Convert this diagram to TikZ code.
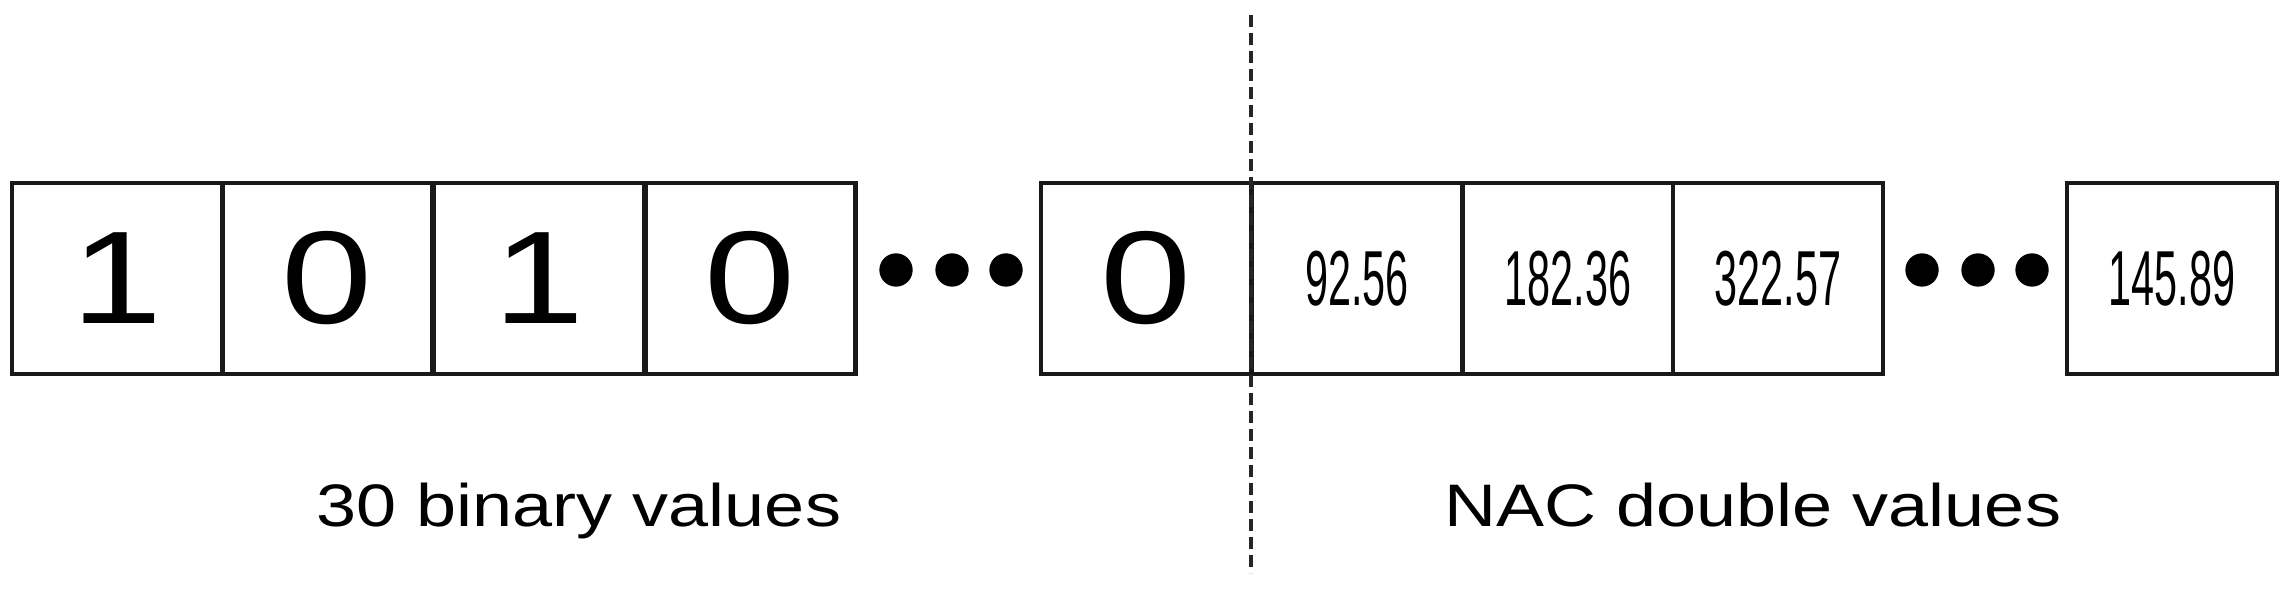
\documentclass[tikz,border=0pt]{standalone}
\usepackage{fontspec}
\setmainfont{Liberation Sans}
\usepackage{graphicx}
\begin{document}
\begin{tikzpicture}[x=0.3pt,y=-0.3pt,
  cell/.style={draw=black!90, line width=1.35pt, fill=white, inner sep=0pt,
    minimum width=63pt, minimum height=57.3pt},
  bit/.style={cell, font=\fontsize{39.6pt}{40pt}\selectfont},
  num/.style={cell, font=\fontsize{23.4pt}{24pt}\selectfont},
  dot/.style={circle, fill=black, inner sep=0pt, minimum size=10pt},
  lbl/.style={anchor=base, inner sep=0pt, font=\fontsize{18pt}{20pt}\selectfont},
  sep/.style={draw=black!85, line width=1pt, dash pattern=on 3.6pt off 1.8pt}
]
\useasboundingbox (0,0) rectangle (2287,595);
% binary cells
\node[bit] (b1) at (117,278.5)   {\scalebox{1.24}[1]{1}};
\node[bit] (b2) at (327.5,278.5) {\scalebox{1.24}[1]{0}};
\node[bit] (b3) at (539,278.5)   {\scalebox{1.24}[1]{1}};
\node[bit] (b4) at (750.5,278.5) {\scalebox{1.24}[1]{0}};
\node[dot] (d1) at (896,270) {};
\node[dot] (d2) at (952,270) {};
\node[dot] (d3) at (1006,270) {};
\node[bit] (b5) at (1146,278.5)  {\scalebox{1.24}[1]{0}};
% double cells
\node[num] (n1) at (1357,278.5) {\scalebox{0.53}[1]{92.56}};
\node[num] (n2) at (1568,278.5) {\scalebox{0.53}[1]{182.36}};
\node[num] (n3) at (1778,278.5) {\scalebox{0.53}[1]{322.57}};
\node[dot] (d4) at (1922,270) {};
\node[dot] (d5) at (1978,270) {};
\node[dot] (d6) at (2032,270) {};
\node[num] (n4) at (2172,278.5) {\scalebox{0.53}[1]{145.89}};
% separator
\coordinate (st) at (1251,15);
\coordinate (sb) at (1251,573);
\draw[sep] (st) -- (sb);
% labels
\node[lbl] (l1) at (579,527)  {\scalebox{1.2}[1]{30 binary values}};
\node[lbl] (l2) at (1753,527) {\scalebox{1.2}[1]{NAC double values}};
\end{tikzpicture}
\end{document}
